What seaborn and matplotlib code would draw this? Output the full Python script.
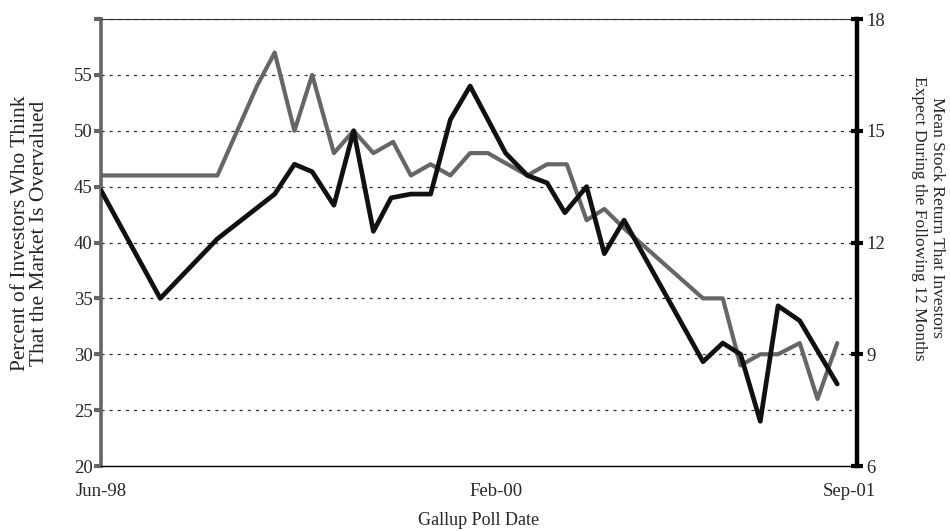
import numpy as np
import pandas as pd
import matplotlib
matplotlib.use("Agg")
import matplotlib.pyplot as plt
import seaborn as sns

# months since Jun-98
gray_x = [0, 3.0, 5.9, 7.9, 8.8, 9.8, 10.7, 11.8, 12.8, 13.8, 14.8, 15.7, 16.7, 17.7, 18.7,
          19.6, 21.6, 22.6, 23.6, 24.6, 25.5, 26.6, 30.5, 31.5, 32.4, 33.4, 34.3, 35.4, 36.3, 37.3]
gray_y = [46, 46, 46, 54, 57, 50, 55, 48, 50, 48, 49, 46, 47, 46, 48,
          48, 46, 47, 47, 42, 43, 41.1, 35, 35, 29, 30, 30, 31, 26, 31]

black_x = [0, 3.0, 5.9, 8.8, 9.8, 10.7, 11.8, 12.8, 13.8, 14.7, 15.7, 16.7, 17.7, 18.7,
           20.5, 21.6, 22.6, 23.5, 24.6, 25.5, 26.5, 30.5, 31.5, 32.4, 33.4, 34.3, 35.4, 37.3]
black_y = [13.4, 10.5, 12.1, 13.3, 14.1, 13.9, 13.0, 15.0, 12.3, 13.2, 13.3, 13.3, 15.3, 16.2,
           14.4, 13.8, 13.6, 12.8, 13.5, 11.7, 12.6, 8.8, 9.3, 9.0, 7.2, 10.3, 9.9, 8.2]

x_ticks = [0, 20, 37.9]
x_tick_labels = ["Jun-98", "Feb-00", "Sep-01"]
left_ticks = [20, 25, 30, 35, 40, 45, 50, 55, 60]
left_tick_labels = ["20", "25", "30", "35", "40", "45", "50", "55", ""]
right_ticks = [6, 9, 12, 15, 18]

sns.set_style("white")
plt.rcParams['font.family'] = ['Liberation Serif', 'DejaVu Serif']

gray_df = pd.DataFrame({"x": gray_x, "y": gray_y})
black_df = pd.DataFrame({"x": black_x, "y": black_y})

fig = plt.figure(figsize=(9.5, 5.31), dpi=100)
ax = fig.add_axes([0.1063, 0.1224, 0.7958, 0.8418])
ax2 = ax.twinx()

GRAY = "#666666"
ax.set_xlim(0, 38.3)
ax.set_ylim(20, 60)
ax2.set_ylim(6, 18)

# gridlines
for v in left_ticks[1:]:
    ax.axhline(v, color="#333333", lw=0.9, ls=(0, (2.5, 4)), zorder=0)

sns.lineplot(data=gray_df, x="x", y="y", ax=ax, color=GRAY, lw=3.0, zorder=3)
sns.lineplot(data=black_df, x="x", y="y", ax=ax2, color="#111111", lw=3.4, zorder=4)

TF = 13.5
ax.set_yticks(left_ticks)
ax.set_yticklabels(left_tick_labels, fontsize=TF)
ax2.set_yticks(right_ticks)
ax2.set_yticklabels([str(t) for t in right_ticks], fontsize=TF)
ax.set_xticks(x_ticks)
ax.set_xticklabels(x_tick_labels, fontsize=TF)

ax.tick_params(axis="y", direction="out", length=5, width=3, color=GRAY, pad=1)
ax2.tick_params(axis="y", direction="inout", length=9, width=3, color="black", pad=2)
ax.tick_params(axis="x", direction="out", length=5, width=1, color="#888888", pad=7)

for a in (ax, ax2):
    for s in a.spines.values():
        s.set_visible(False)
ax.spines["left"].set_visible(True)
ax.spines["left"].set_color(GRAY)
ax.spines["left"].set_linewidth(2.6)
ax.spines["bottom"].set_visible(True)
ax.spines["bottom"].set_color("black")
ax.spines["bottom"].set_linewidth(1.0)
ax.spines["top"].set_visible(True)
ax.spines["top"].set_color("#333333")
ax.spines["top"].set_linewidth(0.8)
ax2.spines["right"].set_visible(True)
ax2.spines["right"].set_color("black")
ax2.spines["right"].set_linewidth(3.2)

ax.set_xlabel("")
ax2.set_xlabel("")
fig.text(0.504, 0.004, "Gallup Poll Date", fontsize=13, ha="center", va="bottom")
ax.set_ylabel("Percent of Investors Who Think\nThat the Market Is Overvalued", fontsize=15.5,
              linespacing=1.0, va="center")
ax.yaxis.set_label_coords(-0.094, 0.52)
ax2.set_ylabel("Mean Stock Return That Investors\nExpect During the Following 12 Months", fontsize=12.6,
               rotation=270, linespacing=1.2, va="center")
ax2.yaxis.set_label_coords(1.094, 0.555)

fig.savefig("out.png", dpi=100)
